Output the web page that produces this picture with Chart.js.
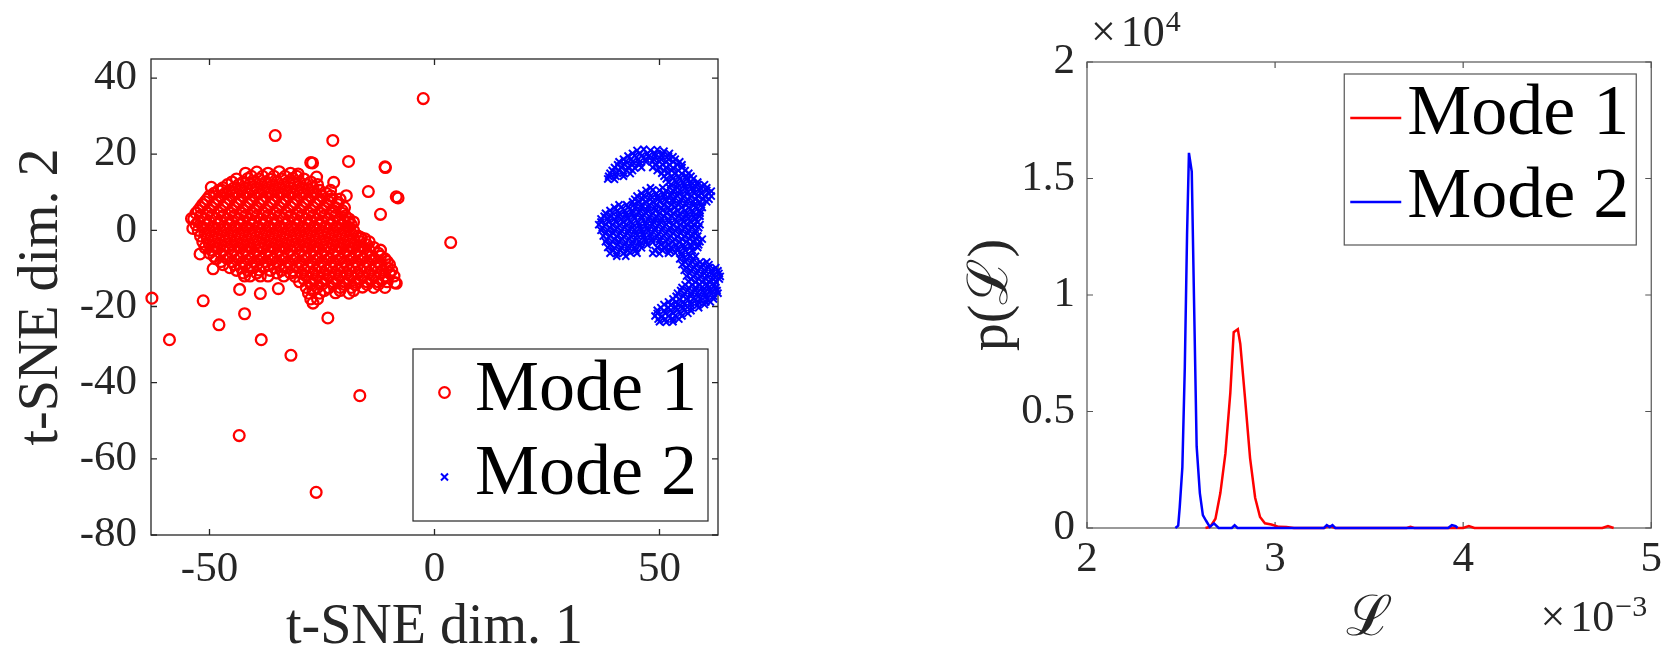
<!doctype html>
<html>
<head>
<meta charset="UTF-8">
<title>t-SNE and p(L)</title>
<style>
body{margin:0;background:#fff;}
#wrap{position:relative;width:1668px;height:653px;}
canvas{position:absolute;top:0;}
</style>
</head>
<body>
<div id="wrap">
<canvas id="tsne" width="760" height="653" style="left:0"></canvas>
<canvas id="dens" width="788" height="653" style="left:880px"></canvas>
</div>
<script src="https://cdn.jsdelivr.net/npm/chart.js"></script>
<script>
var seriesNames = ['Mode 1', 'Mode 2'];

// left panel: t-SNE points
var mode1Points = [
 [-2.5,34.6],[-35.4,24.9],[-22.6,23.6],[-19.1,18.1],[-27.1,17.7],[-10.9,16.5],[-8.1,8.5],[-14.7,10.2],
 [-19.6,9.1],[-12,4.2],[3.6,-3.2],[-62.8,-17.8],[-58.9,-28.7],[-51.4,-18.5],[-47.9,-24.8],[-42.2,-21.9],
 [-38.5,-28.7],[-31.9,-32.8],[-23.7,-23],[-16.6,-43.4],[-43.4,-53.9],[-26.3,-68.8],[-43.3,-15.5],
 [-38.7,-16.6],[-34.7,-15.3],[-52.1,-6.2],[-54,3.1],[-53.7,0.5],[-49.2,-10.1],[-49.6,11.3],[-30.3,14.8],
 [-26.2,14],[-22.4,12.6],[-19.1,2.2],[-16.3,-2.1],[-8.5,-13.9],[-27,-19.1],[-27.5,17.8],[-23.1,10.5],
 [-11,16.7],[-8.5,8.8],[-47.2,10.5],[-42.2,-12],[-38.7,-12],[-8.8,-13.7],[-16.5,-1.8],
 [-42,15],[-39.5,15.3],[-37,15],[-34.5,15.4],[-32,15],
 [-44,13.5],[-41.5,13.6],[-39,13.5],[-36.5,13.4],[-34,13.5],[-31.5,13.7],[-29,13.5],
 [-46,12],[-43.5,12],[-41,12.2],[-38.5,12],[-36,11.9],[-33.5,12],[-31,12.1],[-28.5,12],[-26,12],
 [-48,10.5],[-45.5,10.4],[-43,10.5],[-40.5,10.6],[-38,10.5],[-35.5,10.5],[-33,10.4],[-30.5,10.5],[-28,10.6],[-25.5,10.5],
 [-50,9],[-47.5,9],[-45,9.1],[-42.5,9],[-40,9],[-37.5,8.9],[-35,9],[-32.5,9],[-30,9.1],[-27.5,9],[-25,9],[-23,9],
 [-51,7.5],[-48.5,7.5],[-46,7.4],[-43.5,7.5],[-41,7.5],[-38.5,7.6],[-36,7.5],[-33.5,7.5],[-31,7.4],[-28.5,7.5],[-26,7.5],[-23.5,7.5],[-21.5,7.4],
 [-52,6],[-49.5,6],[-47,6.1],[-44.5,6],[-42,6],[-39.5,5.9],[-37,6],[-34.5,6],[-32,6.1],[-29.5,6],[-27,6],[-24.5,5.9],[-22,6],[-20,6],
 [-53,4.5],[-50.5,4.5],[-48,4.6],[-45.5,4.5],[-43,4.5],[-40.5,4.4],[-38,4.5],[-35.5,4.5],[-33,4.6],[-30.5,4.5],[-28,4.5],[-25.5,4.4],[-23,4.5],[-20.5,4.5],
 [-53.5,3],[-51,3],[-48.5,3.1],[-46,3],[-43.5,3],[-41,2.9],[-38.5,3],[-36,3],[-33.5,3.1],[-31,3],[-28.5,3],[-26,2.9],[-23.5,3],[-21,3],[-19,3],
 [-53,1.5],[-50.5,1.5],[-48,1.6],[-45.5,1.5],[-43,1.5],[-40.5,1.4],[-38,1.5],[-35.5,1.5],[-33,1.6],[-30.5,1.5],[-28,1.5],[-25.5,1.4],[-23,1.5],[-20.5,1.5],[-18.5,1.5],
 [-52.5,0],[-50,0],[-47.5,0.1],[-45,0],[-42.5,0],[-40,-0.1],[-37.5,0],[-35,0],[-32.5,0.1],[-30,0],[-27.5,0],[-25,-0.1],[-22.5,0],[-20,0],[-18,0],
 [-52,-1.5],[-49.5,-1.5],[-47,-1.4],[-44.5,-1.5],[-42,-1.5],[-39.5,-1.6],[-37,-1.5],[-34.5,-1.5],[-32,-1.4],[-29.5,-1.5],[-27,-1.5],[-24.5,-1.6],[-22,-1.5],[-19.5,-1.5],[-17,-1.5],
 [-51.5,-3],[-49,-3],[-46.5,-2.9],[-44,-3],[-41.5,-3],[-39,-3.1],[-36.5,-3],[-34,-3],[-31.5,-2.9],[-29,-3],[-26.5,-3],[-24,-3.1],[-21.5,-3],[-19,-3],[-16.5,-3],[-14.5,-3],
 [-51,-4.5],[-48.5,-4.5],[-46,-4.4],[-43.5,-4.5],[-41,-4.5],[-38.5,-4.6],[-36,-4.5],[-33.5,-4.5],[-31,-4.4],[-28.5,-4.5],[-26,-4.5],[-23.5,-4.6],[-21,-4.5],[-18.5,-4.5],[-16,-4.5],[-13.5,-4.5],
 [-50,-6],[-47.5,-6],[-45,-5.9],[-42.5,-6],[-40,-6],[-37.5,-6.1],[-35,-6],[-32.5,-6],[-30,-5.9],[-27.5,-6],[-25,-6],[-22.5,-6.1],[-20,-6],[-17.5,-6],[-15,-6],[-12.5,-6],
 [-48.5,-7.5],[-46,-7.5],[-43.5,-7.4],[-41,-7.5],[-38.5,-7.5],[-36,-7.6],[-33.5,-7.5],[-31,-7.5],[-28.5,-7.4],[-26,-7.5],[-23.5,-7.5],[-21,-7.6],[-18.5,-7.5],[-16,-7.5],[-13.5,-7.5],[-11,-7.5],
 [-47,-9],[-44.5,-9],[-42,-8.9],[-39.5,-9],[-37,-9],[-34.5,-9.1],[-32,-9],[-29.5,-9],[-27,-8.9],[-24.5,-9],[-22,-9],[-19.5,-9.1],[-17,-9],[-14.5,-9],[-12,-9],[-10,-9],
 [-44,-10.5],[-41.5,-10.5],[-39,-10.4],[-36.5,-10.5],[-34,-10.5],[-31.5,-10.6],[-29,-10.5],[-26.5,-10.5],[-24,-10.4],[-21.5,-10.5],[-19,-10.5],[-16.5,-10.6],[-14,-10.5],[-11.5,-10.5],[-9.5,-10.5],
 [-41,-12],[-37,-12],[-33.5,-12],[-31,-12.1],[-28.5,-12],[-26,-12],[-23.5,-11.9],[-21,-12],[-18.5,-12],[-16,-12.1],[-13.5,-12],[-11,-12],[-9,-12],
 [-30,-13.5],[-27.5,-13.5],[-25,-13.4],[-22.5,-13.5],[-20,-13.5],[-17.5,-13.6],[-15,-13.5],[-12.5,-13.5],[-10.5,-13.5],
 [-28.5,-15],[-26,-15],[-23.5,-15.1],[-21,-15],[-18.5,-15],[-16,-14.9],[-13.5,-15],[-11,-15],
 [-28,-16.5],[-25.5,-16.5],[-22,-16.4],[-19,-16.5],
 [-27.5,-18],[-26,-18]
];
// second, in-between layer of the dense core, row by row: [y, x values]
var mode1CoreRows = [
 [14.2, [-40.7,-38.2,-35.7,-33.2,-30.6]],
 [12.7, [-45,-42.5,-40,-37.5,-35,-32.5,-30,-27.5]],
 [11.2, [-47,-44.5,-42,-39.5,-37,-34.5,-32,-29.5,-27]],
 [9.7, [-49,-46.5,-44,-41.5,-39,-36.5,-34,-31.5,-29,-26.5,-24]],
 [8.2, [-50.5,-48,-45.5,-43,-40.5,-38,-35.5,-33,-30.5,-28,-25.5,-23,-21]],
 [6.8, [-51.5,-49,-46.5,-44,-41.5,-39,-36.5,-34,-31.5,-29,-26.5,-24,-21.5]],
 [5.2, [-52.5,-50,-47.5,-45,-42.5,-40,-37.5,-35,-32.5,-30,-27.5,-25,-22.5,-20.5]],
 [3.8, [-52,-49.5,-47,-44.5,-42,-39.5,-37,-34.5,-32,-29.5,-27,-24.5,-22,-19.8]],
 [2.2, [-52.5,-50,-47.5,-45,-42.5,-40,-37.5,-35,-32.5,-30,-27.5,-25,-22.5,-20,-18]],
 [0.8, [-51.5,-49,-46.5,-44,-41.5,-39,-36.5,-34,-31.5,-29,-26.5,-24,-21.5,-19]],
 [-0.8, [-51,-48.5,-46,-43.5,-41,-38.5,-36,-33.5,-31,-28.5,-26,-23.5,-21,-18.5]],
 [-2.2, [-50.5,-48,-45.5,-43,-40.5,-38,-35.5,-33,-30.5,-28,-25.5,-23,-20.5,-18,-15.5]],
 [-3.8, [-50,-47.5,-45,-42.5,-40,-37.5,-35,-32.5,-30,-27.5,-25,-22.5,-20,-17.5,-15]],
 [-5.2, [-49.5,-47,-44.5,-42,-39.5,-37,-34.5,-32,-29.5,-27,-24.5,-22,-19.5,-17,-14.5,-12]],
 [-6.8, [-49,-46.5,-44,-41.5,-39,-36.5,-34,-31.5,-29,-26.5,-24,-21.5,-19,-16.5,-14,-12]],
 [-8.2, [-47.5,-45,-42.5,-40,-37.5,-35,-32.5,-30,-27.5,-25,-22.5,-20,-17.5,-15,-12.5,-10.5]],
 [-9.8, [-45.5,-43,-40.5,-38,-35.5,-33,-30.5,-28,-25.5,-23,-20.5,-18,-15.5,-13,-10.5]],
 [-11.2, [-42.5,-39.5,-35,-32,-29.5,-27,-24.5,-22,-19.5,-17,-14.5,-12,-10]],
 [-12.8, [-29,-26.5,-24,-21.5,-19,-16.5,-14,-11.5]],
 [-14.2, [-27.5,-25,-22.5,-20,-17.5,-15,-12.5]],
 [-15.8, [-27,-24.5,-21,-18]]
];

var mode2Points = [
 [45,21],[46.5,21.3],[48,21],[49.5,21.2],[51,20.8],
 [43,19.5],[44.5,19.6],[46,19.5],[47.5,19.4],[49,19.5],[50.5,19.6],[52,19.5],[53,19.3],
 [41,18],[42.5,18.1],[44,18],[45.5,17.9],[47,18],[48.5,18.1],[50,18],[51.5,17.9],[53,18],[54.5,18],
 [40,16.5],[41.5,16.6],[43,16.5],[44.5,16.4],[46,16.5],[48.5,16.5],[50,16.6],[51.5,16.5],[53,16.4],[55,16.5],
 [39,15],[40.5,15.1],[42,15],[43.5,14.9],[50.5,15],[52,15.1],[53.5,15],[55,14.9],[56.5,15],
 [38.5,13.5],[40,13.4],[51.5,13.5],[53,13.6],[54.5,13.5],[56,13.4],[57.5,13.5],
 [52.5,12],[54,12.1],[55.5,12],[57,11.9],[58.5,12],[60,12],
 [47,10.5],[48.5,10.6],[50,10.5],[51.5,10.4],[53,10.5],[54.5,10.6],[56,10.5],[57.5,10.4],[59,10.5],[60.5,10.5],[61.5,10.3],
 [45,9],[46.5,9.1],[48,9],[49.5,8.9],[51,9],[52.5,9.1],[54,9],[55.5,8.9],[57,9],[58.5,9.1],[60,9],[61.5,9],
 [44,7.5],[45.5,7.6],[47,7.5],[48.5,7.4],[50,7.5],[51.5,7.6],[53,7.5],[54.5,7.4],[56,7.5],[57.5,7.6],[59,7.5],[60.5,7.5],
 [40,6],[41.5,6.1],[43,6],[44.5,5.9],[46,6],[47.5,6.1],[49,6],[50.5,5.9],[52,6],[53.5,6.1],[55,6],[56.5,5.9],[58,6],[59.5,6],
 [38,4.5],[39.5,4.6],[41,4.5],[42.5,4.4],[44,4.5],[45.5,4.6],[47,4.5],[48.5,4.4],[50,4.5],[51.5,4.6],[53,4.5],[54.5,4.4],[56,4.5],[57.5,4.6],[59,4.5],
 [37,3],[38.5,3.1],[40,3],[41.5,2.9],[43,3],[44.5,3.1],[46,3],[47.5,2.9],[49,3],[50.5,3.1],[52,3],[53.5,2.9],[55,3],[56.5,3.1],[58,3],
 [36.5,1.5],[38,1.6],[39.5,1.5],[41,1.4],[42.5,1.5],[44,1.6],[45.5,1.5],[47,1.4],[48.5,1.5],[50,1.6],[51.5,1.5],[53,1.4],[54.5,1.5],[56,1.6],[57.5,1.5],[59,1.5],
 [37,0],[38.5,0.1],[40,0],[41.5,-0.1],[43,0],[44.5,0.1],[46,0],[47.5,-0.1],[49,0],[50.5,0.1],[52,0],[53.5,-0.1],[55,0],[56.5,0.1],[58,0],
 [37.5,-1.5],[39,-1.4],[40.5,-1.5],[42,-1.6],[43.5,-1.5],[45,-1.4],[46.5,-1.5],[48,-1.6],[49.5,-1.5],[51,-1.4],[52.5,-1.5],[54,-1.6],[55.5,-1.5],[57,-1.4],[58.5,-1.5],
 [38,-3],[39.5,-2.9],[41,-3],[42.5,-3.1],[44,-3],[45.5,-2.9],[47,-3],[48.5,-3.1],[50,-3],[51.5,-2.9],[53,-3],[54.5,-3.1],[56,-3],[57.5,-2.9],[59,-3],
 [38.5,-4.5],[40,-4.6],[41.5,-4.5],[43,-4.4],[44.5,-4.5],[46,-4.6],[49.5,-4.5],[51,-4.4],[52.5,-4.5],[54,-4.6],[55.5,-4.5],[57,-4.4],[58.5,-4.5],
 [39,-6],[40.5,-6.1],[42,-6],[43.5,-5.9],[45,-6],[48.5,-6],[50,-6.1],[52,-6],[53.5,-5.9],[55,-6],[56.5,-6.1],
 [54.5,-7.5],[56,-7.6],[57.5,-7.5],
 [55,-9],[56.5,-9.1],[58,-9],[59.5,-8.9],[61,-9],
 [55.5,-10.5],[57,-10.6],[58.5,-10.5],[60,-10.4],[61.5,-10.5],[63,-10.6],
 [56,-12],[57.5,-12.1],[59,-12],[60.5,-11.9],[62,-12],[63.5,-12.1],
 [56.5,-13.5],[58,-13.6],[59.5,-13.5],[61,-13.4],[62.5,-13.5],
 [55,-15],[56.5,-15.1],[58,-15],[59.5,-14.9],[61,-15],[62.5,-15.1],
 [54,-16.5],[55.5,-16.6],[57,-16.5],[58.5,-16.4],[60,-16.5],[61.5,-16.6],[63,-16.5],
 [53,-18],[54.5,-18.1],[56,-18],[57.5,-17.9],[59,-18],[60.5,-18.1],[62,-18],
 [51,-19.5],[52.5,-19.6],[54,-19.5],[55.5,-19.4],[57,-19.5],[58.5,-19.6],[60,-19.5],
 [49.5,-21],[51,-21.1],[52.5,-21],[54,-20.9],[55.5,-21],[57,-21.1],
 [49,-22.5],[50.5,-22.6],[52,-22.5],[53.5,-22.4],[55,-22.5],
 [50,-24],[51.5,-24.1],[53,-24]
];
// in-between layer of the mode 2 blob: [y, x values]
var mode2CoreRows = [
 [20.2, [44,45.7,47.3,49,50.7,52.2]],
 [18.7, [42,43.7,45.3,47,48.7,50.3,52,53.5]],
 [17.2, [40.7,42.3,44,45.5,49,50.7,52.3,54,55]],
 [15.7, [39.5,41,42.7,44,49.5,51,52.7,54.2,55.7]],
 [14.2, [38.7,40.3,42,51,52.7,54.3,56,57]],
 [12.7, [52,53.7,55.3,57,58.5]],
 [11.2, [48,50.7,52.3,54,55.7,57.3,59,60.5]],
 [9.7, [46,47.7,49.3,51,52.7,54.3,56,57.7,59.3,61]],
 [8.2, [44.5,46.3,48,49.7,51.3,53,54.7,56.3,58,59.7,61]],
 [6.7, [41,42.7,44.3,46,47.7,49.3,51,52.7,54.3,56,57.7,59.3]],
 [5.2, [39,40.7,42.3,44,45.7,47.3,49,50.7,52.3,54,55.7,57.3,59]],
 [3.7, [37.7,39.3,41,42.7,44.3,46,47.7,49.3,51,52.7,54.3,56,57.7,59]],
 [2.2, [37,38.7,40.3,42,43.7,45.3,47,48.7,50.3,52,53.7,55.3,57,58.5]],
 [0.7, [37.3,39,40.7,42.3,44,45.7,47.3,49,50.7,52.3,54,55.7,57.3,58.7]],
 [-0.8, [38,39.7,41.3,43,44.7,46.3,48,49.7,51.3,53,54.7,56.3,58]],
 [-2.3, [38.3,40,41.7,43.3,45,46.7,48.3,50,51.7,53.3,55,56.7,58.3,59.5]],
 [-3.8, [39,40.7,42.3,44,45.7,47.3,50.3,52,53.7,55.3,57,58.7]],
 [-5.3, [39.7,41.3,43,44.7,49,50.7,52.3,54,55.7,57.3]],
 [-6.8, [40.5,42.5,55,56.7,58]],
 [-8.3, [55.7,57.3,59,60.5]],
 [-9.8, [56,57.7,59.3,61,62.5]],
 [-11.3, [56.7,58.3,60,61.7,63.2]],
 [-12.8, [57,58.7,60.3,62,63.3]],
 [-14.3, [55.7,57.3,59,60.7,62.3]],
 [-15.8, [54.7,56.3,58,59.7,61.3,62.8]],
 [-17.3, [53.7,55.3,57,58.7,60.3,62]],
 [-18.8, [52,53.7,55.3,57,58.7,60.3,61.3]],
 [-20.3, [50.3,52,53.7,55.3,57,58.7]],
 [-21.8, [49.5,51.3,53,54.7,56.3]],
 [-23.3, [49.7,51.3,53,54.3]]
];
var tsneXTicks = [-50, 0, 50];
var tsneYTicks = [-80, -60, -40, -20, 0, 20, 40];

// right panel: p(L) curves, x in units of 1e-3, y in units of 1e4
var mode1LX = [2.63, 2.655, 2.683, 2.709, 2.736, 2.762, 2.78, 2.802, 2.815, 2.841, 2.867, 2.894, 2.92, 2.946, 2.98, 3.02, 3.06, 3.1, 3.26, 3.28, 3.3, 3.32, 3.7, 3.72, 3.74, 4.0, 4.03, 4.06, 4.74, 4.77, 4.8];
var mode1LY = [0, 0.005, 0.04, 0.15, 0.32, 0.58, 0.84, 0.853, 0.79, 0.55, 0.30, 0.13, 0.047, 0.02, 0.015, 0.005, 0.004, 0, 0, 0.008, 0.006, 0, 0, 0.005, 0, 0, 0.008, 0, 0, 0.008, 0];
var mode2LX = [2.47, 2.485, 2.493, 2.507, 2.52, 2.532, 2.542, 2.557, 2.569, 2.583, 2.60, 2.616, 2.634, 2.653, 2.675, 2.70, 2.77, 2.785, 2.80, 3.26, 3.275, 3.29, 3.305, 3.32, 3.92, 3.94, 3.96, 3.97];
var mode2LY = [0, 0.01, 0.09, 0.26, 0.69, 1.26, 1.61, 1.53, 0.98, 0.35, 0.15, 0.055, 0.03, 0.005, 0.02, 0, 0, 0.012, 0, 0, 0.012, 0.004, 0.012, 0, 0, 0.012, 0.008, 0];
var densXTicks = [2, 3, 4, 5];
var densYTicks = [0, 0.5, 1, 1.5, 2];
var densYPower = '4';
var densXPower = '\u22123';

var serif = "'Liberation Serif', 'DejaVu Serif', serif";
var red = '#ff0000', blue = '#0000ff';

function toXY(pts, rows){
  var out = pts.map(function(p){ return {x:p[0], y:p[1]}; });
  rows.forEach(function(r){ r[1].forEach(function(x){ out.push({x:x, y:r[0]}); }); });
  return out;
}
function zipXY(xs, ys){ return xs.map(function(v,i){ return {x:v, y:ys[i]}; }); }

// box around the axes, ticks pointing inward on all four sides
var boxPlugin = {
  id: 'box',
  beforeDatasetsDraw: function(chart, args, opts){
    var ctx = chart.ctx, a = chart.chartArea, sx = chart.scales.x, sy = chart.scales.y, L = 6;
    ctx.save();
    ctx.strokeStyle = opts.color;
    ctx.lineWidth = opts.width;
    ctx.strokeRect(a.left, a.top, a.right - a.left, a.bottom - a.top);
    ctx.beginPath();
    sx.ticks.forEach(function(t){
      var px = sx.getPixelForValue(t.value);
      ctx.moveTo(px, a.bottom); ctx.lineTo(px, a.bottom - L);
      ctx.moveTo(px, a.top); ctx.lineTo(px, a.top + L);
    });
    sy.ticks.forEach(function(t){
      var py = sy.getPixelForValue(t.value);
      ctx.moveTo(a.left, py); ctx.lineTo(a.left + L, py);
      ctx.moveTo(a.right, py); ctx.lineTo(a.right - L, py);
    });
    ctx.stroke();
    ctx.restore();
  }
};

function legendFrame(ctx, x, y, w, h, col){
  ctx.fillStyle = '#fff';
  ctx.fillRect(x, y, w, h);
  ctx.strokeStyle = col;
  ctx.lineWidth = 1.2;
  ctx.strokeRect(x, y, w, h);
}

var tsneLegend = {
  id: 'tsneLegend',
  afterDraw: function(chart){
    var ctx = chart.ctx, a = chart.chartArea;
    var bx = a.right - 305, by = a.bottom - 186;
    ctx.save();
    legendFrame(ctx, bx, by, 295, 172, '#262626');
    ctx.strokeStyle = red; ctx.lineWidth = 2.2;
    ctx.beginPath(); ctx.arc(bx + 31.5, by + 43.5, 5.3, 0, 2 * Math.PI); ctx.stroke();
    var cx = bx + 31.5, cy = by + 128, d = 3.5;
    ctx.strokeStyle = blue; ctx.lineWidth = 2;
    ctx.beginPath();
    ctx.moveTo(cx - d, cy - d); ctx.lineTo(cx + d, cy + d);
    ctx.moveTo(cx - d, cy + d); ctx.lineTo(cx + d, cy - d);
    ctx.stroke();
    ctx.fillStyle = '#000';
    ctx.font = '72px ' + serif;
    ctx.textBaseline = 'alphabetic';
    ctx.textAlign = 'left';
    ctx.fillText(seriesNames[0], bx + 62, by + 61);
    ctx.fillText(seriesNames[1], bx + 62, by + 145);
    ctx.restore();
  }
};

function drawPower(ctx, x, y, power, align){
  ctx.font = '44px ' + serif;
  var wx = ctx.measureText('\u00d7').width, w10 = ctx.measureText('10').width;
  ctx.font = '30px ' + serif;
  var wp = ctx.measureText(power).width;
  var total = wx + 5 + w10 + 1 + wp;
  var x0 = align === 'right' ? x - total : x;
  ctx.textAlign = 'left';
  ctx.textBaseline = 'alphabetic';
  ctx.font = '44px ' + serif;
  ctx.fillText('\u00d7', x0, y);
  ctx.fillText('10', x0 + wx + 5, y);
  ctx.font = '30px ' + serif;
  ctx.fillText(power, x0 + wx + 5 + w10 + 1, y - 15);
}

var densLegend = {
  id: 'densLegend',
  afterDraw: function(chart){
    var ctx = chart.ctx, a = chart.chartArea;
    var bx = a.right - 307, by = a.top + 12;
    ctx.save();
    legendFrame(ctx, bx, by, 292, 171, '#555');
    ctx.lineWidth = 2.5;
    ctx.strokeStyle = red;
    ctx.beginPath(); ctx.moveTo(bx + 6, by + 44); ctx.lineTo(bx + 57, by + 44); ctx.stroke();
    ctx.strokeStyle = blue;
    ctx.beginPath(); ctx.moveTo(bx + 6, by + 128); ctx.lineTo(bx + 57, by + 128); ctx.stroke();
    ctx.fillStyle = '#000';
    ctx.font = '72px ' + serif;
    ctx.textBaseline = 'alphabetic';
    ctx.textAlign = 'left';
    ctx.fillText(seriesNames[0], bx + 63, by + 60);
    ctx.fillText(seriesNames[1], bx + 63, by + 143);
    // axis multipliers
    ctx.fillStyle = '#262626';
    drawPower(ctx, a.left + 4, 46, densYPower, 'left');
    drawPower(ctx, a.right - 4, 631, densXPower, 'right');
    ctx.restore();
  }
};

function tickFont(){ return {family: serif, size: 43}; }
function titleFont(){ return {family: serif, size: 56, lineHeight: 0.9}; }
function fixTicks(list){ return function(s){ s.ticks = list.map(function(v){ return {value: v}; }); }; }
function plain(v){ return String(v); }

new Chart(document.getElementById('tsne'), {
  type: 'scatter',
  data: {
    datasets: [
      {label: seriesNames[0], data: toXY(mode1Points, mode1CoreRows), pointStyle: 'circle', pointRadius: 5.4,
       pointBorderColor: red, pointBackgroundColor: 'rgba(0,0,0,0)', pointBorderWidth: 2.3, clip: false},
      {label: seriesNames[1], data: toXY(mode2Points, mode2CoreRows), pointStyle: 'crossRot', pointRadius: 5,
       pointBorderColor: blue, pointBackgroundColor: blue, pointBorderWidth: 2, clip: false}
    ]
  },
  options: {
    responsive: false, animation: false, events: [],
    layout: {padding: {left: 0, right: 42, top: 59, bottom: 0}},
    plugins: {legend: {display: false}, tooltip: {enabled: false}, box: {color: '#262626', width: 1.3}},
    scales: {
      x: {type: 'linear', min: -63, max: 63,
          grid: {display: false, drawTicks: false}, border: {display: false},
          ticks: {font: tickFont(), color: '#262626', padding: 9, callback: plain, maxRotation: 0},
          afterBuildTicks: fixTicks(tsneXTicks),
          afterFit: function(s){ s.height = 118; },
          title: {display: true, text: 't-SNE dim. 1', color: '#262626', font: titleFont(), padding: {top: 0, bottom: 0}}},
      y: {type: 'linear', min: -80, max: 45,
          grid: {display: false, drawTicks: false}, border: {display: false},
          ticks: {font: tickFont(), color: '#262626', padding: 14, callback: plain},
          afterBuildTicks: fixTicks(tsneYTicks),
          afterFit: function(s){ s.width = 151; },
          title: {display: true, text: 't-SNE dim. 2', color: '#262626', font: titleFont(), padding: {top: 17, bottom: 0}}}
    }
  },
  plugins: [boxPlugin, tsneLegend]
});

new Chart(document.getElementById('dens'), {
  type: 'line',
  data: {
    datasets: [
      {label: seriesNames[0], data: zipXY(mode1LX, mode1LY), borderColor: red, borderWidth: 2.5,
       pointRadius: 0, tension: 0, fill: false, order: 1, clip: false},
      {label: seriesNames[1], data: zipXY(mode2LX, mode2LY), borderColor: blue, borderWidth: 2.5,
       pointRadius: 0, tension: 0, fill: false, order: 0, clip: false}
    ]
  },
  options: {
    responsive: false, animation: false, events: [],
    layout: {padding: {left: 0, right: 11, top: 62, bottom: 0}},
    plugins: {legend: {display: false}, tooltip: {enabled: false}, box: {color: '#555', width: 1.2}},
    scales: {
      x: {type: 'linear', min: 2, max: 5,
          grid: {display: false, drawTicks: false}, border: {display: false},
          ticks: {font: tickFont(), color: '#262626', padding: 6, callback: plain, maxRotation: 0},
          afterBuildTicks: fixTicks(densXTicks),
          afterFit: function(s){ s.height = 125; },
          title: {display: true, text: '\u2112', color: '#262626', font: titleFont(), padding: {top: 0, bottom: 8}}},
      y: {type: 'linear', min: 0, max: 2,
          grid: {display: false, drawTicks: false}, border: {display: false},
          ticks: {font: tickFont(), color: '#262626', padding: 12, callback: plain},
          afterBuildTicks: fixTicks(densYTicks),
          afterFit: function(s){ s.width = 207; },
          title: {display: true, text: 'p(\u2112)', color: '#262626', font: titleFont(), padding: {top: 87, bottom: 0}}}
    }
  },
  plugins: [boxPlugin, densLegend]
});
</script>
</body>
</html>
